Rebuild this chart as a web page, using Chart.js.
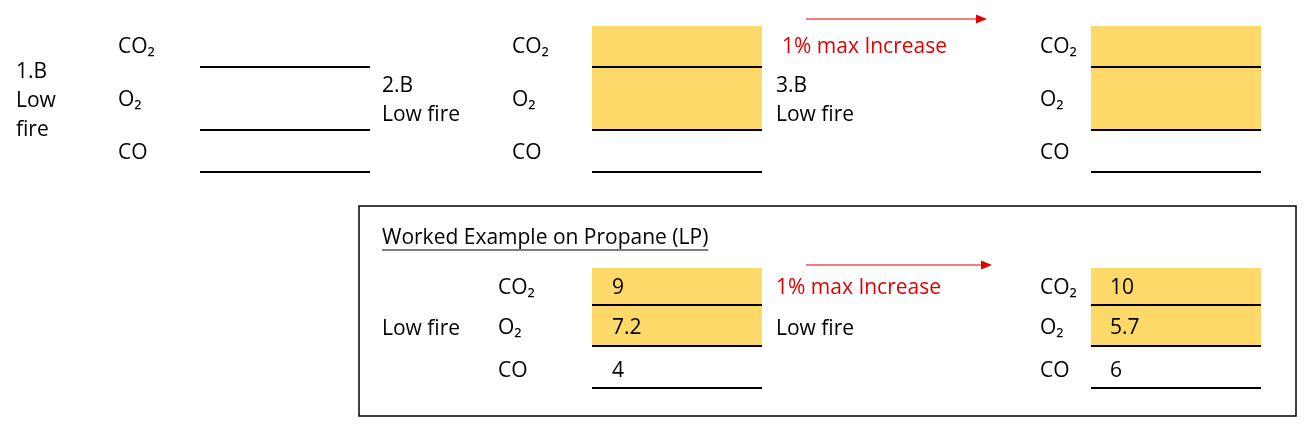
<!DOCTYPE html>
<html>
<head>
<meta charset="utf-8">
<script src="https://cdn.jsdelivr.net/npm/chart.js@4"></script>
<style>
  html, body { margin: 0; padding: 0; background: #fff; }
  #wrap { width: 1315px; height: 425px; }
</style>
</head>
<body>
<div id="wrap"><canvas id="hoja"></canvas></div>
<script>
// Datos del formulario
const gases = ['CO₂', 'O₂', 'CO'];
const etapas = ['1.B', '2.B', '3.B'];
const etiquetaFuego = 'Low fire';
const textoAumento = '1% max Increase';
const tituloEjemplo = 'Worked Example on Propane (LP)';
const valoresAntes = ['9', '7.2', '4'];
const valoresDespues = ['10', '5.7', '6'];

const FUENTE = '21px "Open Sans", "Noto Sans", sans-serif';
const AMARILLO = '#fdd969';

// Dibuja todo usando las escalas del gráfico (x: 0..1315, y: 0..425)
const plantilla = {
    id: 'plantilla',
    afterDraw(chart) {
        const ctx = chart.ctx;
        const sx = v => chart.scales.x.getPixelForValue(v);
        const sy = v => chart.scales.y.getPixelForValue(v);

        function texto(t, x, y, color) {
            ctx.fillStyle = color || '#000';
            ctx.font = FUENTE;
            ctx.textBaseline = 'middle';
            ctx.fillText(t, sx(x), sy(y));
        }
        function linea(x1, x2, y) {
            ctx.strokeStyle = '#000';
            ctx.lineWidth = 2;
            ctx.beginPath();
            ctx.moveTo(sx(x1), sy(y));
            ctx.lineTo(sx(x2), sy(y));
            ctx.stroke();
        }
        function caja(x1, x2, y1, y2) {
            ctx.fillStyle = AMARILLO;
            ctx.fillRect(sx(x1), sy(y1), sx(x2) - sx(x1), sy(y2) - sy(y1));
        }
        function flecha(x1, x2, y) {
            ctx.strokeStyle = '#e00000';
            ctx.fillStyle = '#e00000';
            ctx.lineWidth = 1.2;
            ctx.beginPath();
            ctx.moveTo(sx(x1), sy(y));
            ctx.lineTo(sx(x2) - 8, sy(y));
            ctx.stroke();
            ctx.beginPath();
            ctx.moveTo(sx(x2), sy(y));
            ctx.lineTo(sx(x2) - 11, sy(y) - 4.5);
            ctx.lineTo(sx(x2) - 11, sy(y) + 4.5);
            ctx.closePath();
            ctx.fill();
        }
        function bloque(xEtiq, xCaja, relleno, ys, lineas) {
            if (relleno) caja(xCaja, xCaja + 170, relleno[0], relleno[1]);
            gases.forEach((g, i) => texto(g, xEtiq, ys[i]));
            lineas.forEach(y => linea(xCaja, xCaja + 170, y));
        }

        // Fila superior
        const ysArriba = [47, 100, 153];
        const lineasArriba = [67, 130, 172];
        texto(etapas[0], 16, 72);
        texto('Low', 16, 101);
        texto('fire', 16, 130);
        bloque(118, 200, null, ysArriba, lineasArriba);

        texto(etapas[1], 382, 86);
        texto(etiquetaFuego, 382, 115);
        bloque(512, 592, [26, 130], ysArriba, lineasArriba);

        texto(textoAumento, 782, 47, '#e00000');
        flecha(806, 987, 19);

        texto(etapas[2], 776, 86);
        texto(etiquetaFuego, 776, 115);
        bloque(1040, 1091, [26, 130], ysArriba, lineasArriba);

        // Recuadro del ejemplo
        ctx.strokeStyle = '#000';
        ctx.lineWidth = 1.5;
        ctx.strokeRect(sx(359), sy(206), sx(1296) - sx(359), sy(416) - sy(206));

        texto(tituloEjemplo, 382, 238);
        ctx.font = FUENTE;
        const ancho = ctx.measureText(tituloEjemplo).width;
        ctx.lineWidth = 1;
        ctx.beginPath();
        ctx.moveTo(sx(382), sy(250));
        ctx.lineTo(sx(382) + ancho, sy(250));
        ctx.stroke();

        const ysAbajo = [288, 328, 371];
        const lineasAbajo = [305, 346, 388];
        texto(etiquetaFuego, 382, 329);
        bloque(498, 592, [268, 346], ysAbajo, lineasAbajo);
        valoresAntes.forEach((v, i) => texto(v, 612, ysAbajo[i]));

        texto(textoAumento, 776, 288, '#e00000');
        flecha(806, 992, 265);
        texto(etiquetaFuego, 776, 329);
        bloque(1040, 1091, [268, 346], ysAbajo, lineasAbajo);
        valoresDespues.forEach((v, i) => texto(v, 1110, ysAbajo[i]));
    }
};

new Chart(document.getElementById('hoja').getContext('2d'), {
    type: 'scatter',
    data: { datasets: [{ data: [] }] },
    options: {
        responsive: true,
        maintainAspectRatio: false,
        animation: false,
        layout: { padding: 0 },
        plugins: { legend: { display: false }, tooltip: { enabled: false } },
        scales: {
            x: { type: 'linear', min: 0, max: 1315, display: false },
            y: { type: 'linear', min: 0, max: 425, reverse: true, display: false }
        }
    },
    plugins: [plantilla]
});
</script>
</body>
</html>
